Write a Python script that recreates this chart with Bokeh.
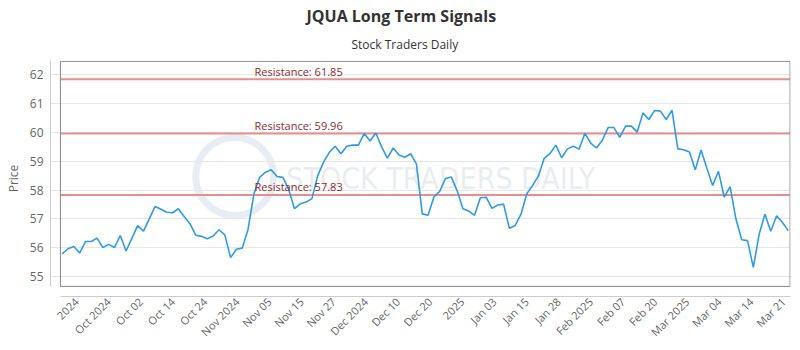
import math
from bokeh.plotting import figure
from bokeh.models import Label, Title, FixedTicker, Range1d
from bokeh.embed import file_html
from bokeh.resources import INLINE

# ---------------- data ----------------
prices = [
    55.78, 55.96, 56.04, 55.81, 56.21, 56.21, 56.33, 56.00, 56.11, 56.00,
    56.42, 55.88, 56.32, 56.76, 56.57, 57.00, 57.43, 57.33, 57.23, 57.21,
    57.35, 57.08, 56.83, 56.43, 56.39, 56.31, 56.40, 56.62, 56.44, 55.65,
    55.94, 55.98, 56.63, 57.85, 58.44, 58.62, 58.70, 58.47, 58.44, 58.02,
    57.35, 57.52, 57.58, 57.70, 58.50, 58.97, 59.31, 59.52, 59.26, 59.52,
    59.56, 59.56, 59.96, 59.70, 59.98, 59.50, 59.11, 59.46, 59.22, 59.14,
    59.26, 58.90, 57.17, 57.12, 57.76, 57.95, 58.40, 58.45, 57.98, 57.35,
    57.27, 57.12, 57.73, 57.75, 57.36, 57.48, 57.51, 56.67, 56.77, 57.16,
    57.87, 58.16, 58.49, 59.10, 59.27, 59.56, 59.12, 59.43, 59.52, 59.42,
    59.97, 59.63, 59.46, 59.73, 60.17, 60.17, 59.83, 60.22, 60.22, 60.01,
    60.68, 60.45, 60.76, 60.74, 60.45, 60.77, 59.43, 59.40, 59.32, 58.70,
    59.39, 58.76, 58.16, 58.65, 57.75, 58.12, 57.00, 56.27, 56.24, 55.31,
    56.46, 57.16, 56.57, 57.10, 56.88, 56.59,
]
tick_labels = [
    "2024", "Oct 2024", "Oct 02", "Oct 14", "Oct 24", "Nov 2024", "Nov 05",
    "Nov 15", "Nov 27", "Dec 2024", "Dec 10", "Dec 20", "2025", "Jan 03",
    "Jan 15", "Jan 28", "Feb 2025", "Feb 07", "Feb 20", "Mar 2025", "Mar 04",
    "Mar 14", "Mar 21",
]
resistance = [61.85, 59.96, 57.83]
y_ticks = [55, 56, 57, 58, 59, 60, 61, 62]

# ---------------- layout constants ----------------
FIRST_TICK, LAST_TICK = 2.46, 124.2
n_t = len(tick_labels)
tick_pos = [round(FIRST_TICK + i * (LAST_TICK - FIRST_TICK) / (n_t - 1), 3) for i in range(n_t)]
x = list(range(len(prices)))

# inner plot box (data units) and the outer frame that also holds the offset axes
BX0, BX1 = -0.3, 125.32
BY0, BY1 = 54.65, 62.47
FONT = "Open Sans"

p = figure(width=800, height=350, output_backend="svg", toolbar_location=None,
           x_range=Range1d(-2.01, 125.4), y_range=Range1d(54.30, 62.5),
           min_border_left=50, min_border_right=10, min_border_top=60,
           min_border_bottom=54, background_fill_color="white",
           border_fill_color="white")

p.outline_line_color = None
p.xgrid.grid_line_color = None
p.ygrid.grid_line_color = "#e6e6e6"
p.ygrid.bounds = (BX0, BX1)

# y axis
p.yaxis.ticker = FixedTicker(ticks=y_ticks)
p.yaxis.bounds = (BY0, 62.5)
p.yaxis.axis_line_color = "#cccccc"
p.yaxis.major_tick_line_color = None
p.yaxis.minor_tick_line_color = None
p.yaxis.major_tick_out = 0
p.yaxis.major_label_standoff = 7
p.yaxis.major_label_text_font = FONT
p.yaxis.major_label_text_font_size = "12px"
p.yaxis.major_label_text_color = "#666666"
p.yaxis.axis_label = "Price"
p.yaxis.axis_label_text_font = FONT
p.yaxis.axis_label_text_font_style = "normal"
p.yaxis.axis_label_text_font_size = "12px"
p.yaxis.axis_label_text_color = "#666666"
p.yaxis.axis_label_standoff = 5

# x axis
p.xaxis.ticker = FixedTicker(ticks=tick_pos)
p.xaxis.bounds = (BX0, 125.4)
p.xaxis.major_label_overrides = {t: lab for t, lab in zip(tick_pos, tick_labels)}
p.xaxis.major_label_orientation = math.pi / 4
p.xaxis.axis_line_color = "#cccccc"
p.xaxis.major_tick_line_color = None
p.xaxis.minor_tick_line_color = None
p.xaxis.major_tick_out = 0
p.xaxis.major_label_standoff = 3
p.xaxis.major_label_text_font = FONT
p.xaxis.major_label_text_font_size = "11px"
p.xaxis.major_label_text_color = "#666666"

# watermark
p.scatter(x=[29.7], y=[58.47], size=78, marker="circle", fill_color=None,
          line_color="#dde5ee", line_width=7, line_alpha=0.7, level="underlay")
p.add_layout(Label(x=38.6, y=58.40, text="STOCK TRADERS DAILY",
                   text_font="DejaVu Sans Condensed", text_font_size="30px",
                   text_color="#dfe5eb", text_alpha=0.7, text_baseline="middle",
                   level="underlay"))

# resistance lines
p.segment(x0=[BX0] * len(resistance), y0=resistance,
          x1=[BX1] * len(resistance), y1=resistance,
          line_color="#ea8d8d", line_width=2)
for r in resistance:
    p.add_layout(Label(x=33.1, y=r, y_offset=8, text=f"Resistance: {r:.2f}",
                       text_font=FONT, text_font_size="11px",
                       text_color="#8e2a2a", text_baseline="alphabetic"))

# price line
p.line(x, prices, line_color="#2f9be6", line_width=1.6)

# inner plot border
p.quad(left=[BX0], right=[BX1], bottom=[BY0], top=[BY1],
       fill_color=None, line_color="#888888", line_width=1)

# titles
p.add_layout(Title(text="Stock Traders Daily", align="left", offset=301,
                   text_font=FONT, text_font_size="12px",
                   text_font_style="normal", text_color="#333333",
                   standoff=15), "above")
p.add_layout(Title(text="JQUA Long Term Signals", align="left", offset=256,
                   text_font=FONT, text_font_size="16px",
                   text_font_style="bold", text_color="#333333",
                   standoff=0), "above")

open("out.html", "w").write(file_html(p, INLINE))
